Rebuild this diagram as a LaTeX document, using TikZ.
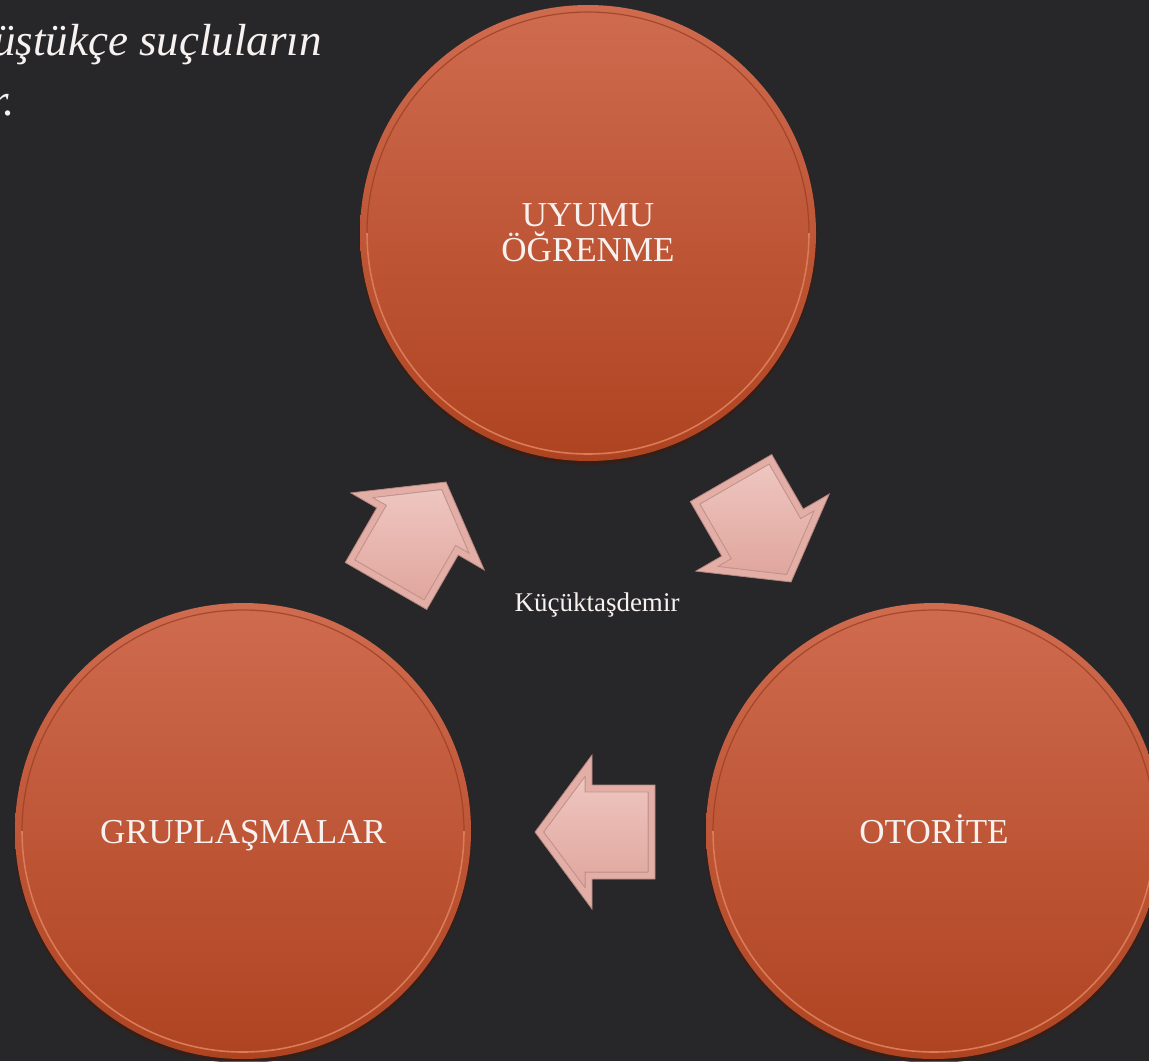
\documentclass[tikz,border=0pt]{standalone}
\usepackage{fontspec}
\setmainfont{Liberation Serif}
\usetikzlibrary{calc}
\definecolor{bgc}{HTML}{27272A}
\definecolor{ctop}{HTML}{CF6B4F}
\definecolor{cbot}{HTML}{AE4320}
\definecolor{cdark}{HTML}{9C3F22}
\definecolor{clight}{HTML}{DC7B58}
\definecolor{cshadow}{HTML}{3A1E16}
\definecolor{aout}{HTML}{E3AEA6}
\definecolor{aedge}{HTML}{B58780}
\definecolor{ainline}{HTML}{C4958E}
\definecolor{atop}{HTML}{EEC6C0}
\definecolor{abot}{HTML}{E0A69D}
\definecolor{txt}{HTML}{F7F2F0}
\tikzset{
  bubble/.style={circle, minimum size=456pt, inner sep=0pt, top color=ctop, bottom color=cbot, draw=none},
  bubbleshadow/.style={fill=cshadow, opacity=.7},
  ringdark/.style={draw=cdark, line width=1.2pt, opacity=.8},
  ringlight/.style={draw=clight, line width=1.6pt},
  lbl/.style={text=txt, font=\fontsize{35}{35}\selectfont, inner sep=0pt},
  arrowouter/.style={fill=aout, draw=aedge, line width=0.8pt, line join=miter},
  arrowinner/.style={top color=atop, bottom color=abot, draw=ainline, line width=0.9pt},
  blockarrow/.pic={
    \filldraw[arrowouter] (-60,-47) -- (3,-47) -- (3,-77) -- (60,0) -- (3,77) -- (3,47) -- (-60,47) -- cycle;
    \filldraw[arrowinner] (-53,-40) -- (10,-40) -- (10,-55.5) -- (51.3,0) -- (10,55.5) -- (10,40) -- (-53,40) -- cycle;
  }
}
\begin{document}
\begin{tikzpicture}[x=1pt,y=-1pt]
\useasboundingbox (0,0) rectangle (1149,1061);
\clip (0,0) rectangle (1149,1061);
\fill[bgc] (0,0) rectangle (1149,1061);

% title fragment
\node[anchor=base east, text=txt, inner sep=0pt, font=\itshape\fontsize{45}{54}\selectfont] (title1) at (322,55) {üştükçe suçluların};
\node[anchor=base east, text=txt, inner sep=0pt, font=\itshape\fontsize{45}{54}\selectfont] (title2) at (15,115) {r.};

% circle shadows
\fill[bubbleshadow] (588,236) circle[radius=229];
\fill[bubbleshadow] (243,834) circle[radius=229];
\fill[bubbleshadow] (934,834) circle[radius=229];

% circles
\node[bubble] (top) at (588,233) {};
\node[bubble] (left) at (243,831) {};
\node[bubble] (right) at (934,831) {};

\foreach \c in {top,left,right}{
  \draw[ringdark] (\c.center) circle[radius=221];
  \draw[ringlight] ($(\c.center)+(221,0)$) arc[start angle=0,end angle=180,radius=221];
}

% labels
\node[lbl, align=center] (ltop) at (588,233) {UYUMU\\ÖĞRENME};
\node[lbl, anchor=base] (lleft) at (243,843) {GRUPLAŞMALAR};
\node[lbl, anchor=base] (lright) at (934,843) {OTORİTE};

% arrows
\pic[rotate=60] at (416,534) {blockarrow};
\pic[rotate=-60] at (761,530) {blockarrow};
\pic[rotate=180] at (595,832) {blockarrow};

% centre text
\node[text=txt, anchor=base, inner sep=0pt, font=\fontsize{27}{27}\selectfont] (credit) at (597,611) {Küçüktaşdemir};
\end{tikzpicture}
\end{document}
